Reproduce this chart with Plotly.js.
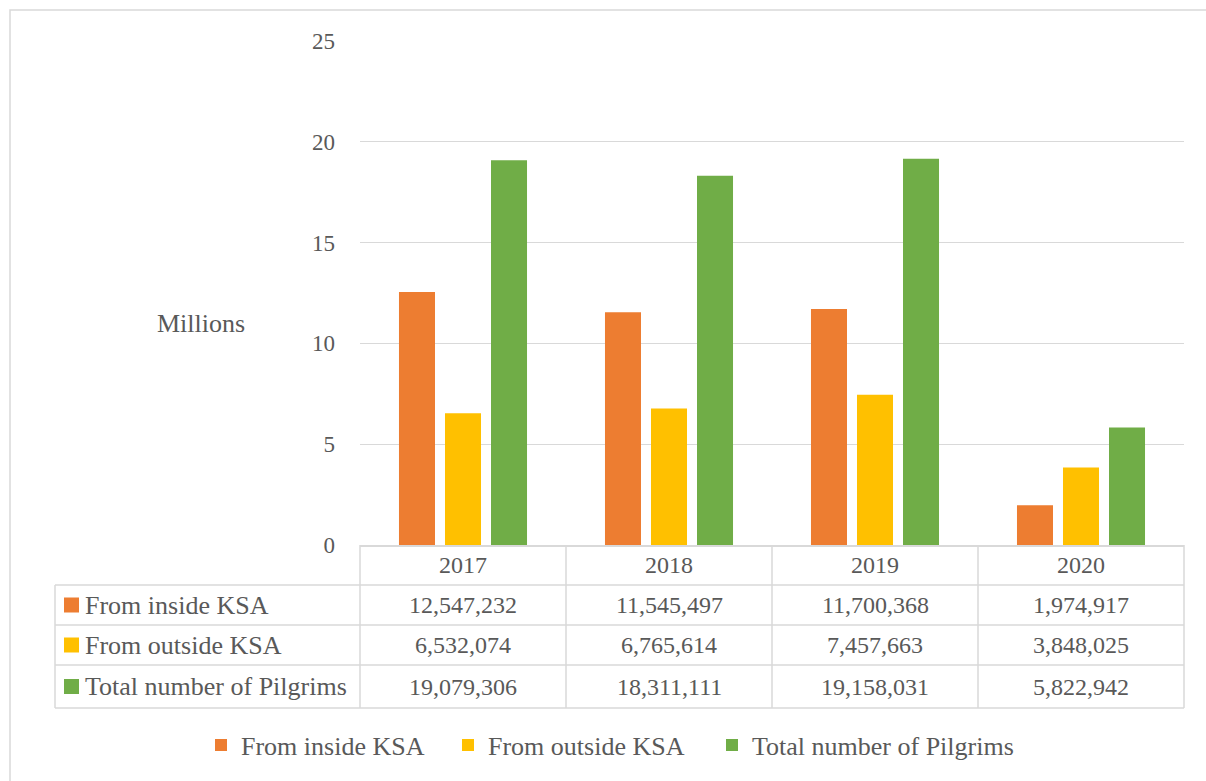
<!DOCTYPE html>
<html>
<head>
<meta charset="utf-8">
<script src="https://cdn.plot.ly/plotly-3.0.1.min.js"></script>
<style>html,body{margin:0;padding:0;background:#fff;}#chart{width:1206px;height:781px;}</style>
</head>
<body>
<div id="chart"></div>
<script>
// ---- data ----
var years = ['2017', '2018', '2019', '2020'];
var seriesNames = ['From inside KSA', 'From outside KSA', 'Total number of Pilgrims'];
var fromInside = [12547232, 11545497, 11700368, 1974917];
var fromOutside = [6532074, 6765614, 7457663, 3848025];
var totalPilgrims = [19079306, 18311111, 19158031, 5822942];
var colors = ['#ED7D31', '#FFC000', '#70AD47'];
var yTickVals = [0, 5, 10, 15, 20, 25];
var unitLabel = 'Millions';

// ---- layout helpers ----
var W = 1206, H = 781;
var L = 360, R = 1184, T = 41, B = 545;
function px(p) { return (p - L) / (R - L); }
function py(p) { return (B - p) / (B - T); }
var textColor = '#595959';
var gridColor = '#d9d9d9';
var fontFam = 'Liberation Serif, serif';
var fs = 24;   // numbers
var fsT = 26;  // words

var series = [fromInside, fromOutside, totalPilgrims];
var legendIds = ['legend', 'legend2', 'legend3'];
var legendLeft = [201, 448, 712];
var traces = series.map(function (vals, i) {
  return {
    type: 'bar',
    name: seriesNames[i],
    x: years,
    y: vals.map(function (v) { return v / 1e6; }),
    marker: { color: colors[i] },
    legend: legendIds[i],
    hoverinfo: 'name+y'
  };
});

var shapes = [];
var annotations = [];
function line(x0, y0, x1, y1) {
  shapes.push({ type: 'line', xref: 'paper', yref: 'paper', x0: px(x0), y0: py(y0), x1: px(x1), y1: py(y1),
    line: { color: gridColor, width: 1.5 }, layer: 'above' });
}
// outer chart border
shapes.push({ type: 'rect', xref: 'paper', yref: 'paper', x0: px(10), y0: py(10), x1: px(1215), y1: py(795),
  line: { color: gridColor, width: 1.5 }, fillcolor: 'rgba(0,0,0,0)', layer: 'below' });

// data table grid
var rowTops = [545, 585, 625, 665, 708];
var tableLeft = 55;
var colW = (R - L) / years.length;
for (var r = 1; r < rowTops.length; r++) line(tableLeft, rowTops[r], R, rowTops[r]);
line(tableLeft, rowTops[1], tableLeft, rowTops[4]);
for (var c = 0; c <= years.length; c++) line(L + c * colW, rowTops[0], L + c * colW, rowTops[4]);

// header row (x given as category index)
years.forEach(function (yr, j) {
  annotations.push({ xref: 'x', yref: 'paper', x: j, y: py((rowTops[0] + rowTops[1]) / 2), text: yr,
    showarrow: false, xanchor: 'center', yanchor: 'middle', font: { family: fontFam, size: fs, color: textColor } });
});
// data rows
series.forEach(function (vals, i) {
  var mid = (rowTops[i + 1] + rowTops[i + 2]) / 2;
  var yc = py(mid);
  shapes.push({ type: 'rect', xref: 'paper', yref: 'paper', x0: px(64), x1: px(79),
    y0: py(mid - 7.5), y1: py(mid + 7.5), fillcolor: colors[i], line: { width: 0 } });
  annotations.push({ xref: 'paper', yref: 'paper', x: px(83), y: yc, text: seriesNames[i], showarrow: false,
    xanchor: 'left', yanchor: 'middle', font: { family: fontFam, size: fsT, color: textColor } });
  vals.forEach(function (v, j) {
    annotations.push({ xref: 'x', yref: 'paper', x: j, y: yc, text: v.toLocaleString('en-US'),
      showarrow: false, xanchor: 'center', yanchor: 'middle', font: { family: fontFam, size: fs, color: textColor } });
  });
});
// unit label
annotations.push({ xref: 'paper', yref: 'paper', x: px(201), y: py(323), text: unitLabel, showarrow: false,
  xanchor: 'center', yanchor: 'middle', font: { family: fontFam, size: fsT, color: textColor } });

var layout = {
  width: W, height: H,
  margin: { l: L, r: W - R, t: T, b: H - B, pad: 0 },
  paper_bgcolor: '#ffffff', plot_bgcolor: '#ffffff',
  font: { family: fontFam, size: 22, color: textColor },
  barmode: 'group',
  bargap: 0.33,
  bargroupgap: 0.217,
  xaxis: { type: 'category', range: [-0.5, 3.5], showticklabels: false, showgrid: false, zeroline: false,
    showline: true, linecolor: gridColor, linewidth: 1.5, fixedrange: true },
  yaxis: { range: [0, 25], tickvals: yTickVals, showgrid: true, gridcolor: gridColor, gridwidth: 1.3,
    zeroline: false, showline: false, ticklabelstandoff: 24, tickfont: { family: fontFam, size: 23, color: textColor },
    fixedrange: true },
  showlegend: true,
  shapes: shapes,
  annotations: annotations
};
legendIds.forEach(function (id, i) {
  layout[id] = { orientation: 'h', xref: 'paper', yref: 'paper', x: px(legendLeft[i]), y: py(745),
    xanchor: 'left', yanchor: 'middle', font: { family: fontFam, size: fsT, color: textColor },
    bgcolor: 'rgba(0,0,0,0)', borderwidth: 0 };
});

Plotly.newPlot('chart', traces, layout, { displayModeBar: false, staticPlot: true });
</script>
</body>
</html>
